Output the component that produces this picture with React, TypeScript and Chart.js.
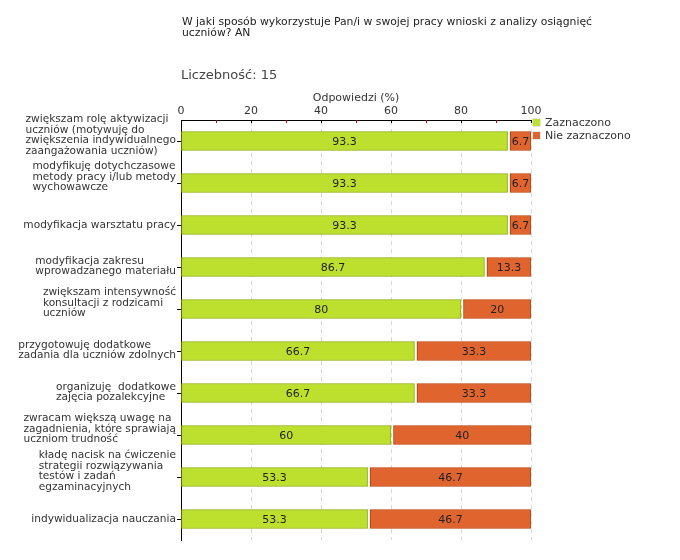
import React, { useEffect, useRef } from "react";
import { Chart, registerables } from "chart.js";
Chart.register(...registerables);

const titleLines = [
  "W jaki sposób wykorzystuje Pan/i w swojej pracy wnioski z analizy osiągnięć",
  "uczniów? AN",
];
const countLabel = "Liczebność: 15";
const axisTitle = "Odpowiedzi (%)";
const seriesNames = ["Zaznaczono", "Nie zaznaczono"];
const categories: string[][] = [
  ["zwiększam rolę aktywizacji", "uczniów (motywuję do", "zwiększenia indywidualnego", "zaangażowania uczniów)"],
  ["modyfikuję dotychczasowe", "metody pracy i/lub metody", "wychowawcze"],
  ["modyfikacja warsztatu pracy"],
  ["modyfikacja zakresu", "wprowadzanego materiału"],
  ["zwiększam intensywność", "konsultacji z rodzicami", "uczniów"],
  ["przygotowuję dodatkowe", "zadania dla uczniów zdolnych"],
  ["organizuję  dodatkowe", "zajęcia pozalekcyjne"],
  ["zwracam większą uwagę na", "zagadnienia, które sprawiają", "uczniom trudność"],
  ["kładę nacisk na ćwiczenie", "strategii rozwiązywania", "testów i zadań", "egzaminacyjnych"],
  ["indywidualizacja nauczania"],
];
const selected = [93.3, 93.3, 93.3, 86.7, 80, 66.7, 66.7, 60, 53.3, 53.3];
const notSelected = [6.7, 6.7, 6.7, 13.3, 20, 33.3, 33.3, 40, 46.7, 46.7];
const xMin = 0;
const xMax = 100;
const xStep = 10;
const xLabelStep = 20;

const FONT = "'DejaVu Sans', Verdana, sans-serif";
const GREEN = "#bde02e";
const GREEN_B = "#8aa800";
const ORANGE = "#e0642e";
const ORANGE_B = "#b83a00";
const TEXT = "#333333";

export default function App() {
  const ref = useRef<HTMLCanvasElement | null>(null);

  useEffect(() => {
    if (!ref.current) return;
    const decor = {
      id: "decor",
      afterDatasetsUpdate(chart: any) {
        const meta = chart.getDatasetMeta(1);
        meta.data.forEach((el: any) => {
          el.base = el.base + 2.5;
        });
      },
      afterDatasetsDraw(chart: any) {
        const ctx = chart.ctx;
        ctx.save();
        ctx.font = `11px ${FONT}`;
        ctx.fillStyle = "#222";
        ctx.textAlign = "center";
        ctx.textBaseline = "middle";
        [0, 1].forEach((di) => {
          const meta = chart.getDatasetMeta(di);
          const vals = di === 0 ? selected : notSelected;
          meta.data.forEach((el: any, i: number) => {
            const cx = (el.x + el.base) / 2;
            ctx.fillText(String(vals[i]), cx, el.y + 1);
          });
        });
        ctx.restore();
      },
      afterDraw(chart: any) {
        const ctx = chart.ctx;
        const xs = chart.scales.x;
        const ys = chart.scales.y;
        ctx.save();
        for (let v = xMin; v <= xMax; v += xStep) {
          const px = Math.round(xs.getPixelForValue(v)) + 0.5;
          ctx.strokeStyle = v % xLabelStep === 0 ? "#000" : "#d00000";
          ctx.lineWidth = 1;
          ctx.beginPath();
          ctx.moveTo(px, xs.bottom);
          ctx.lineTo(px, xs.bottom + 3);
          ctx.stroke();
        }
        ctx.font = `10.6px ${FONT}`;
        ctx.fillStyle = TEXT;
        ctx.textAlign = "left";
        ctx.textBaseline = "middle";
        const lh = 10.5;
        const rightEdge = ys.right - 5;
        categories.forEach((lines, i) => {
          const cy = ys.getPixelForValue(i);
          let maxW = 0;
          lines.forEach((l) => {
            maxW = Math.max(maxW, ctx.measureText(l).width);
          });
          const n = lines.length;
          const shift = n >= 3 ? -6 : n === 2 ? -1 : 0;
          const startY = cy + shift - ((n - 1) * lh) / 2;
          const lx = rightEdge - maxW;
          lines.forEach((l, k) => {
            ctx.fillText(l, lx, startY + k * lh);
          });
        });
        ctx.restore();
      },
    };

    const chart = new Chart(ref.current, {
      type: "bar",
      data: {
        labels: categories.map((c) => c.join(" ")),
        datasets: [
          {
            label: seriesNames[0],
            data: selected,
            backgroundColor: GREEN,
            borderColor: GREEN_B,
            borderWidth: 1,
            borderSkipped: false,
            barThickness: 19,
          },
          {
            label: seriesNames[1],
            data: notSelected,
            backgroundColor: ORANGE,
            borderColor: ORANGE_B,
            borderWidth: 1,
            borderSkipped: false,
            barThickness: 19,
          },
        ],
      },
      options: {
        indexAxis: "y",
        responsive: false,
        animation: false,
        events: [],
        layout: { padding: { left: 0, right: 149, top: 88, bottom: 20 } },
        plugins: {
          legend: { display: false },
          tooltip: { enabled: false },
          title: { display: false },
        },
        scales: {
          x: {
            position: "top",
            stacked: true,
            min: xMin,
            max: xMax,
            afterFit(scale: any) {
              scale.height = 32;
            },
            ticks: {
              stepSize: xStep,
              autoSkip: false,
              maxRotation: 0,
              padding: 2,
              color: TEXT,
              font: { family: FONT, size: 11 },
              callback: (v: any) => (Number(v) % xLabelStep === 0 ? String(v) : ""),
            },
            grid: {
              drawTicks: false,
              lineWidth: 1,
              color: (c: any) =>
                c.tick && c.tick.value % xLabelStep === 0 && c.tick.value > xMin ? "#d8d8d8" : "transparent",
            },
            border: { display: true, color: "#000", width: 1, dash: [4, 4] },
            title: {
              display: true,
              text: axisTitle,
              color: TEXT,
              font: { family: FONT, size: 11 },
              padding: { top: 4, bottom: 2 },
            },
          },
          y: {
            stacked: true,
            afterFit(scale: any) {
              scale.width = 181;
            },
            ticks: { color: "transparent", font: { family: FONT, size: 10 }, padding: 4 },
            grid: {
              offset: false,
              drawOnChartArea: false,
              drawTicks: true,
              tickLength: 4,
              color: "transparent",
              tickColor: "#000",
            },
            border: { display: true, color: "#000", width: 1 },
          },
        },
      },
      plugins: [decor],
    } as any);
    return () => chart.destroy();
  }, []);

  return (
    <div
      style={{
        position: "fixed",
        left: 0,
        top: 0,
        width: 680,
        height: 560,
        background: "#fff",
        fontFamily: FONT,
        color: TEXT,
      }}
    >
      <canvas ref={ref} width={680} height={560} style={{ position: "absolute", left: 0, top: 0 }} />
      <div style={{ position: "absolute", left: 182, top: 16, fontSize: 10.8, lineHeight: "11px", color: "#222" }}>
        {titleLines.map((t, i) => (
          <div key={i}>{t}</div>
        ))}
      </div>
      <div style={{ position: "absolute", left: 181, top: 67, fontSize: 13, lineHeight: "16px", color: "#444" }}>
        {countLabel}
      </div>
      <div style={{ position: "absolute", left: 533, top: 116, fontSize: 11, lineHeight: "13px", color: TEXT }}>
        {[GREEN, ORANGE].map((c, i) => (
          <div key={i} style={{ display: "flex", alignItems: "center", height: 13 }}>
            <span
              style={{ display: "inline-block", width: 7, height: 7, background: c, marginRight: 5, boxShadow: "0 0 0 0.5px #ccc" }}
            />
            <span>{seriesNames[i]}</span>
          </div>
        ))}
      </div>
    </div>
  );
}
